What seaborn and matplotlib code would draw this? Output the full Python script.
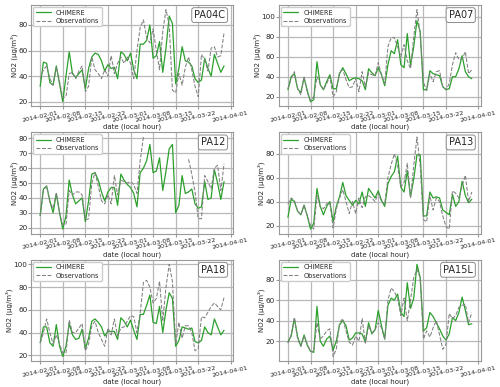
import numpy as np
import pandas as pd
import matplotlib
matplotlib.use("Agg")
import matplotlib.pyplot as plt
import matplotlib.dates as mdates
from matplotlib.ticker import MultipleLocator
import seaborn as sns

dates = pd.date_range("2014-02-01", "2014-03-30", freq="D")
stations = ["PA04C", "PA07", "PA12", "PA13", "PA18", "PA15L"]
nan = np.nan

pa04c_chimere = [32, 51, 50, 35, 33, 48, 34, 20, 40, 59, 42, 39, 42, 45, 30, 46, 55, 58, 57, 52,
                 44, 49, 46, 47, 38, 59, 57, 52, 58, 45, 38, 65, 65, 68, 80, 54, 56, 67, 43, 62,
                 87, 81, 34, 46, 63, 52, 51, 48, 38, 35, 37, 54, 46, 40, 57, 50, 43, 48]
pa04c_obs = [38, 45, 48, 38, 33, 47, 36, 23, 24, 42, 43, 38, 44, 48, 28, 32, 55, 45, 42, 38,
             45, 40, 56, 42, 50, 55, 50, 55, 50, 38, 60, 78, 84, 70, 66, 77, 60, 45, 75, 92,
             80, 29, 27, 42, 33, 47, 55, 45, 32, 24, 57, 53, 44, 62, 63, 55, 56, 74]

pa07_chimere = [27, 40, 43, 28, 24, 39, 26, 15, 17, 55, 32, 27, 35, 42, 28, 28, 43, 49, 43, 36,
                38, 39, 38, 36, 27, 48, 44, 41, 49, 42, 31, 52, 66, 63, 77, 52, 49, 83, 51, 70,
                96, 85, 27, 27, 46, 43, 42, 41, 30, 27, 28, 40, 40, 48, 61, 45, 40, 38]
pa07_obs = [28, 38, 45, 28, 22, 40, 24, 16, 20, 40, 33, 27, 33, 40, 20, 25, 45, 47, 37, 29,
            30, 38, 25, 45, 30, 44, 42, 41, 54, 42, 33, 70, 79, 79, 70, 60, 72, 56, 48, 80,
            107, 82, 35, 26, 43, 35, 45, 46, 30, 27, 33, 52, 64, 57, 58, 65, 43, 47]

pa12_chimere = [28, 46, 48, 38, 30, 43, 30, 19, 28, 52, 42, 36, 38, 40, 24, 38, 56, 57, 52, 44,
                38, 44, 47, 47, 35, 56, 52, 49, 47, 43, 34, 57, 60, 65, 76, 57, 58, 67, 45, 58,
                73, 76, 30, 35, 55, 43, 44, 46, 36, 33, 34, 51, 39, 40, 59, 50, 39, 51]
pa12_obs = [28, 45, 48, 37, 33, 43, 30, 22, 22, 45, 42, 44, 44, 42, 25, 26, 50, 57, 48, 38,
            36, 42, 36, 55, 42, 52, 51, 50, 51, 49, 43, 65, 81, nan, nan, nan, nan, nan, nan, nan,
            nan, nan, nan, nan, nan, nan, 66, 56, 44, 26, 26, 55, 51, 46, 60, 62, 45, 63]

pa13_chimere = [27, 42, 40, 32, 29, 37, 28, 17, 22, 51, 36, 29, 36, 40, 23, 36, 44, 56, 45, 41,
                37, 41, 38, 48, 36, 51, 47, 43, 49, 41, 36, 55, 61, 65, 78, 52, 48, 66, 44, 59,
                79, 79, 28, 28, 48, 43, 44, 43, 33, 31, 29, 46, 36, 40, 57, 45, 39, 42]
pa13_obs = [38, 43, 41, 32, 29, 37, 28, 20, 17, 45, 36, 34, 38, 39, 18, 34, 43, 50, 40, 30,
            40, 30, 43, 35, 44, 45, 43, 40, 47, 40, 38, 60, 71, 80, 70, 52, 56, 72, 43, 70,
            94, 70, 25, 23, 45, 33, 43, 40, 28, 19, 17, 49, 47, 43, 53, 62, 40, 48]

pa18_chimere = [31, 45, 45, 31, 28, 47, 28, 19, 28, 48, 38, 34, 35, 43, 26, 35, 50, 52, 49, 45,
                37, 41, 41, 41, 34, 53, 50, 45, 51, 42, 34, 56, 56, 64, 73, 49, 48, 63, 40, 60,
                75, 70, 28, 33, 45, 44, 43, 44, 32, 31, 33, 45, 40, 38, 52, 45, 38, 42]
pa18_obs = [31, 40, 52, 40, 30, 38, 30, 22, 22, 51, 40, 40, 44, 48, 24, 30, 46, 50, 40, 34,
            28, 44, 38, 52, 37, 44, 45, 50, 55, 54, 40, 57, 84, 86, 80, 66, 70, 85, 50, 80,
            100, 85, 30, 49, 35, 46, 46, 40, 24, 26, 54, 53, 58, 63, 66, 63, 60, 71]

pa15l_chimere = [19, 25, 42, 24, 15, 26, 16, 10, 9, 54, 20, 15, 22, 25, 11, 20, 36, 40, 35, 21,
                 23, 28, 28, 27, 19, 38, 27, 31, 50, 35, 22, 55, 62, 60, 66, 48, 44, 77, 52, 62,
                 95, 82, 30, 33, 48, 44, 38, 32, 25, 21, 27, 43, 40, 48, 63, 50, 36, 37]
pa15l_obs = [18, 26, 43, 22, 15, 25, 17, 10, 10, 38, 22, 25, 30, 32, 5, 12, 38, 42, 30, 19,
             16, 25, 20, 42, 18, 35, 28, 31, 38, 33, 22, 60, 72, 68, 62, 45, 62, 40, 60, 82,
             90, 82, 22, 30, 24, 33, 40, 26, 12, 17, 47, 42, 45, 53, 55, 56, 38, 48]

chimere = [pa04c_chimere, pa07_chimere, pa12_chimere, pa13_chimere, pa18_chimere, pa15l_chimere]
observations = [pa04c_obs, pa07_obs, pa12_obs, pa13_obs, pa18_obs, pa15l_obs]
ytick_steps = [20, 20, 10, 20, 20, 20]

sns.set_style("whitegrid", {"grid.color": "0.72", "axes.edgecolor": "0.6",
                            "xtick.bottom": True, "ytick.left": True})
plt.rcParams["font.family"] = ["DejaVu Sans"]

fig, axes = plt.subplots(3, 2, figsize=(5.0, 3.87), dpi=100)
fig.subplots_adjust(left=0.062, right=0.962, top=0.987, bottom=0.067, wspace=0.225, hspace=0.257)

for ax, name, c, o, step in zip(axes.flat, stations, chimere, observations, ytick_steps):
    o = np.array(o, dtype=float)
    seg = np.cumsum(np.isnan(o))
    df = pd.DataFrame({"date": dates, "CHIMERE": c, "Observations": o, "seg": seg})
    sns.lineplot(data=df, x="date", y="CHIMERE", ax=ax, color="#2ca02c", lw=0.9,
                 label="CHIMERE", legend=False)
    dfo = df.dropna(subset=["Observations"])
    sns.lineplot(data=dfo, x="date", y="Observations", units="seg", estimator=None, ax=ax,
                 color="0.5", lw=0.75, ls="--", legend=False)
    ax.xaxis.set_major_locator(mdates.DayLocator(bymonthday=[1, 8, 15, 22]))
    ax.xaxis.set_major_formatter(mdates.DateFormatter("%Y-%m-%d"))
    ax.yaxis.set_major_locator(MultipleLocator(step))
    ax.tick_params(axis="x", labelsize=4.6, rotation=12, length=2, pad=1, color="0.6")
    ax.tick_params(axis="y", labelsize=5.2, length=2, pad=0.6, color="0.6")
    ax.set_xlabel("date (local hour)", fontsize=5, labelpad=0.5)
    ax.set_ylabel("NO2 (µg/m³)", fontsize=5, labelpad=0.3)
    for sp in ax.spines.values():
        sp.set_linewidth(0.8)
    ax.grid(True, lw=0.9)
    lines = ax.get_lines()
    leg = ax.legend([lines[0], lines[1]], ["CHIMERE", "Observations"], loc="upper left",
                    fontsize=4.7, handlelength=2.3, borderpad=0.4, labelspacing=0.35,
                    borderaxespad=0.3, framealpha=1)
    ax.text(0.96, 0.95, name, transform=ax.transAxes, ha="right", va="top", fontsize=7,
            bbox=dict(boxstyle="round,pad=0.25", fc="white", ec="0.55", lw=0.7))

fig.savefig("out.png", dpi=100)
